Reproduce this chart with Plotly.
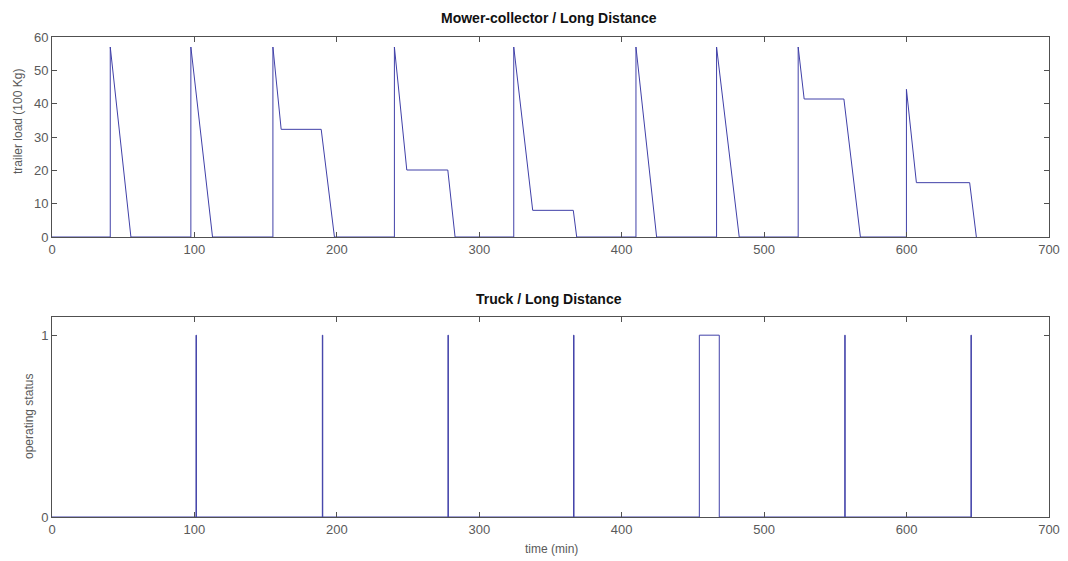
import plotly.graph_objects as go

# Mower-collector trailer load (100 Kg) vs time (min)
load_t = [0, 40.9, 40.9, 55.4, 97.5, 97.5, 112.7, 155.1, 155.1, 160.9, 189.0, 198.3,
          240.4, 240.4, 249.1, 277.9, 283.0, 324.2, 324.2, 337.5, 366.0, 368.4,
          410.0, 410.0, 424.5, 466.6, 466.6, 482.5, 523.9, 523.9, 528.1, 556.0, 567.6,
          599.9, 599.9, 606.9, 644.3, 649.0]
load_v = [0, 0, 57, 0, 0, 57, 0, 0, 57, 32.3, 32.3, 0,
          0, 57, 20.1, 20.1, 0, 0, 57, 8.0, 8.0, 0,
          0, 57, 0, 0, 57, 0, 0, 57, 41.4, 41.4, 0,
          0, 44.3, 16.3, 16.3, 0]

# Truck operating status vs time (min)
truck_t = [0, 101.1, 101.1, 101.4, 101.4, 189.8, 189.8, 190.1, 190.1, 278.0, 278.0, 278.3, 278.3,
           366.2, 366.2, 366.5, 366.5, 454.5, 454.5, 468.5, 468.5, 556.6, 556.6, 556.9, 556.9,
           645.2, 645.2, 645.5, 645.5]
truck_s = [0, 0, 1, 1, 0, 0, 1, 1, 0, 0, 1, 1, 0,
           0, 1, 1, 0, 0, 1, 1, 0, 0, 1, 1, 0,
           0, 1, 1, 0]

x_ticks = [0, 100, 200, 300, 400, 500, 600, 700]
load_ticks = [0, 10, 20, 30, 40, 50, 60]
status_ticks = [0, 1]

W, H = 1068, 561
LINE = "#4040a8"
AX = "#505050"
FAM = "Liberation Sans, Arial, sans-serif"
TICKF = dict(family=FAM, size=13, color="#5a5a5a")
LABF = dict(family=FAM, size=12, color="#5a5a5a")
TITF = dict(family=FAM, size=14, color="#111111")

fig = go.Figure()
fig.add_trace(go.Scatter(x=load_t, y=load_v, mode="lines",
                         line=dict(color=LINE, width=1), xaxis="x", yaxis="y",
                         showlegend=False))
fig.add_trace(go.Scatter(x=truck_t, y=truck_s, mode="lines",
                         line=dict(color=LINE, width=1), xaxis="x2", yaxis="y2",
                         showlegend=False))

axis_common = dict(showline=True, linecolor=AX, linewidth=1, mirror="ticks",
                   ticks="inside", ticklen=5, tickcolor=AX, showgrid=False,
                   zeroline=False, tickfont=TICKF, automargin=False)

fig.update_layout(
    width=W, height=H,
    margin=dict(l=0, r=0, t=0, b=0),
    paper_bgcolor="white", plot_bgcolor="white",
    xaxis=dict(domain=[52/W, 1049/W], range=[0, 700], tickvals=x_ticks,
               anchor="y", **axis_common),
    yaxis=dict(domain=[1-237/H, 1-37/H], range=[0, 60], tickvals=load_ticks,
               anchor="x", **axis_common),
    xaxis2=dict(domain=[52/W, 1049/W], range=[0, 700], tickvals=x_ticks,
                anchor="y2", **axis_common),
    yaxis2=dict(domain=[1-517/H, 1-317/H], range=[0, 1.1], tickvals=status_ticks,
                anchor="x2", **axis_common),
    annotations=[
        dict(text="<b>Mower-collector / Long Distance</b>", x=549/W, y=1-18/H,
             xref="paper", yref="paper", showarrow=False,
             xanchor="center", yanchor="middle", font=TITF),
        dict(text="<b>Truck / Long Distance</b>", x=549/W, y=1-299/H,
             xref="paper", yref="paper", showarrow=False,
             xanchor="center", yanchor="middle", font=TITF),
        dict(text="trailer load (100 Kg)", x=18/W, y=1-122/H, textangle=-90,
             xref="paper", yref="paper", showarrow=False,
             xanchor="center", yanchor="middle", font=LABF),
        dict(text="operating status", x=29/W, y=1-417/H, textangle=-90,
             xref="paper", yref="paper", showarrow=False,
             xanchor="center", yanchor="middle", font=LABF),
        dict(text="time (min)", x=551/W, y=1-549/H,
             xref="paper", yref="paper", showarrow=False,
             xanchor="center", yanchor="middle", font=LABF),
    ],
)

fig.write_html("out.html")
